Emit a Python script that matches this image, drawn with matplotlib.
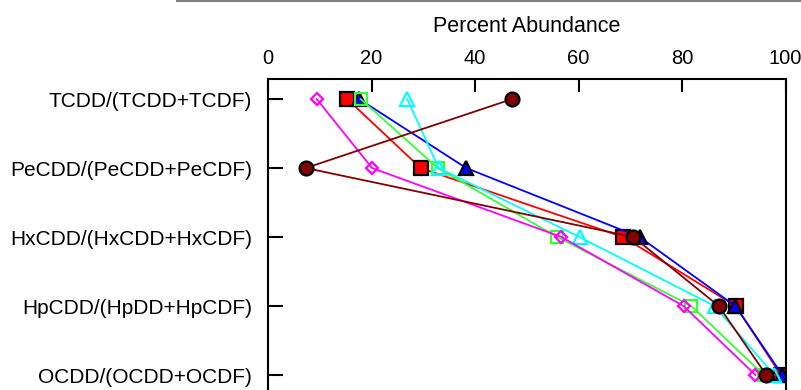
import numpy as np
import matplotlib.pyplot as plt
from matplotlib.lines import Line2D

plt.rcParams['font.family'] = ['Liberation Sans', 'DejaVu Sans']

# ratios (top to bottom)
categorias = ['TCDD/(TCDD+TCDF)', 'PeCDD/(PeCDD+PeCDF)', 'HxCDD/(HxCDD+HxCDF)',
              'HpCDD/(HpDD+HpCDF)', 'OCDD/(OCDD+OCDF)']

# percent abundance per sample
rojo = [15.3, 29.5, 68.6, 90.4, 99.1]
azul = [17.6, 38.3, 71.8, 90.3, 99.4]
verde = [17.9, 32.8, 55.9, 81.8, 95.8]
cian = [26.9, 33.0, 60.2, 86.3, 97.8]
magenta = [9.4, 20.1, 56.7, 80.3, 94.2]
granate = [47.2, 7.3, 70.6, 87.1, 96.3]

fig = plt.figure(figsize=(8.01, 3.90), dpi=100)
# el eje se sale por abajo (la figura original esta recortada)
izq, der, arriba = 268, 785.5, 79
ymin, ymax = -0.29, 4.6
abajo = arriba + (ymax - ymin) * 69
ax = fig.add_axes([izq/801, (390-abajo)/390, (der-izq)/801, (abajo-arriba)/390])

y = np.arange(len(categorias))
lw = 1.3

ax.plot(rojo, y, color='red', lw=lw, marker='s', ms=9.5, mfc='red', mec='black', mew=1.6)
ax.plot(azul, y, color='blue', lw=lw, marker='^', ms=10.5, mfc='blue', mec='black', mew=1.6)
ax.plot(verde, y, color='#33ff33', lw=lw, marker='s', ms=9, mfc='none', mec='#33ff33', mew=1.6)
ax.plot(cian, y, color='cyan', lw=lw, marker='^', ms=10.5, mfc='none', mec='cyan', mew=1.6)
ax.plot(magenta, y, color='magenta', lw=lw, marker='D', ms=6.5, mfc='none', mec='magenta', mew=1.6)
ax.plot(granate, y, color='#800000', lw=lw, marker='o', ms=10, mfc='#800000', mec='black', mew=1.6)

ax.set_xlim(0, 100)
ax.set_ylim(ymax, ymin)
ax.set_xticks([0, 20, 40, 60, 80, 100])
ax.set_yticks(y)
ax.set_yticklabels(categorias, fontsize=15)
ax.xaxis.tick_top()
ax.xaxis.set_label_position('top')
ax.set_xlabel('Percent Abundance', fontsize=15.5, labelpad=12)
ax.tick_params(axis='x', direction='in', length=9, width=1.5, labelsize=14.5, pad=8)
ax.tick_params(axis='y', direction='in', length=11, width=1.5, pad=11.5)
for s in ax.spines.values():
    s.set_linewidth(1.5)

# linea gris arriba
fig.add_artist(Line2D([177/801, 1], [1 - 1/390, 1 - 1/390], color='gray', lw=1.5))

fig.savefig('out.png', dpi=100)
